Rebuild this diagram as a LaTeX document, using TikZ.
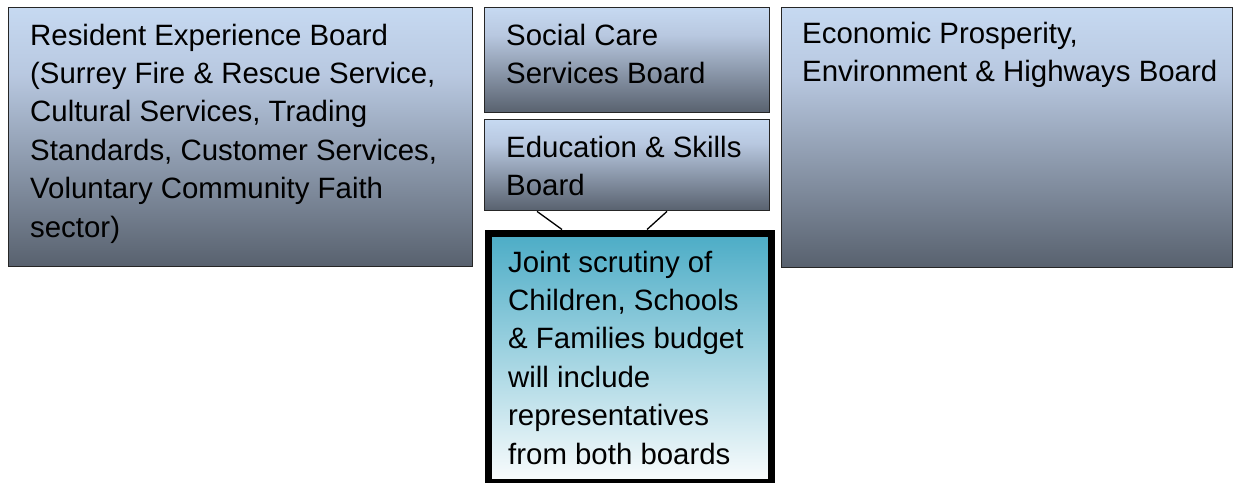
\documentclass[tikz,border=0pt]{standalone}
\usepackage{fontspec}
\setmainfont{Liberation Sans}
\definecolor{gtop}{RGB}{198,217,241}
\definecolor{gmid}{RGB}{184,200,224}
\definecolor{gbot}{RGB}{88,97,110}
\definecolor{jtop}{RGB}{75,172,198}
\definecolor{jbot}{RGB}{250,252,253}
\definecolor{jshadow}{RGB}{125,155,170}
\pgfdeclareverticalshading{boardshade}{100bp}{color(0bp)=(gbot); color(25bp)=(gbot); color(62bp)=(gmid); color(75bp)=(gtop); color(100bp)=(gtop)}
\pgfdeclareverticalshading{jointshade}{100bp}{color(0bp)=(jbot); color(25bp)=(jbot); color(75bp)=(jtop); color(100bp)=(jtop)}
\newcommand{\boardlines}[1]{\begin{tabular}[t]{@{}l@{}}#1\end{tabular}}
\begin{document}
\begin{tikzpicture}[x=1pt,y=-1pt,
  board/.style={draw=black!85, line width=1.4pt, shading=boardshade, anchor=north west, inner sep=0pt, rectangle},
  jointbox/.style={draw=black, line width=7pt, shading=jointshade, anchor=north west, inner sep=0pt, rectangle},
  txt/.style={anchor=base west, inner sep=0pt, font=\fontsize{29.4}{38.4}\selectfont, text=black},
  link/.style={draw=black, line width=1.3pt}]
\fill[white] (0,0) rectangle (1239,482);
\useasboundingbox (0,0) rectangle (1239,482);
% boxes
\node[board, minimum width=464pt, minimum height=259pt] (res) at (8,7) {};
\node[board, minimum width=285pt, minimum height=105pt] (soc) at (484,7) {};
\node[board, minimum width=285pt, minimum height=91pt] (edu) at (484,119) {};
\node[board, minimum width=451pt, minimum height=260pt] (eco) at (781,7) {};
% shadow of joint box
\fill[jshadow] (768,233) rectangle (774,482);
\node[jointbox, minimum width=283pt, minimum height=249pt] (joint) at (484.5,229.5) {};
% connectors
\coordinate (e1) at ([xshift=53pt]edu.south west);
\coordinate (e2) at ([xshift=183pt]edu.south west);
\coordinate (j1) at ([xshift=77.5pt]joint.north west);
\coordinate (j2) at ([xshift=162.5pt]joint.north west);
\draw[link] (e1) -- (j1);
\draw[link] (e2) -- (j2);
% texts
\node[txt] (restxt) at (30,45) {\boardlines{Resident Experience Board\\(Surrey Fire \& Rescue Service,\\Cultural Services, Trading\\Standards, Customer Services,\\Voluntary Community Faith\\sector)}};
\node[txt] (soctxt) at (506,45) {\boardlines{Social Care\\Services Board}};
\node[txt] (edutxt) at (506,157) {\boardlines{Education \& Skills\\Board}};
\node[txt] (ecotxt) at (802,43) {\boardlines{Economic Prosperity,\\Environment \& Highways Board}};
\node[txt] (jointtxt) at (508,272) {\boardlines{Joint scrutiny of\\Children, Schools\\\& Families budget\\will include\\representatives\\from both boards}};
\end{tikzpicture}
\end{document}
